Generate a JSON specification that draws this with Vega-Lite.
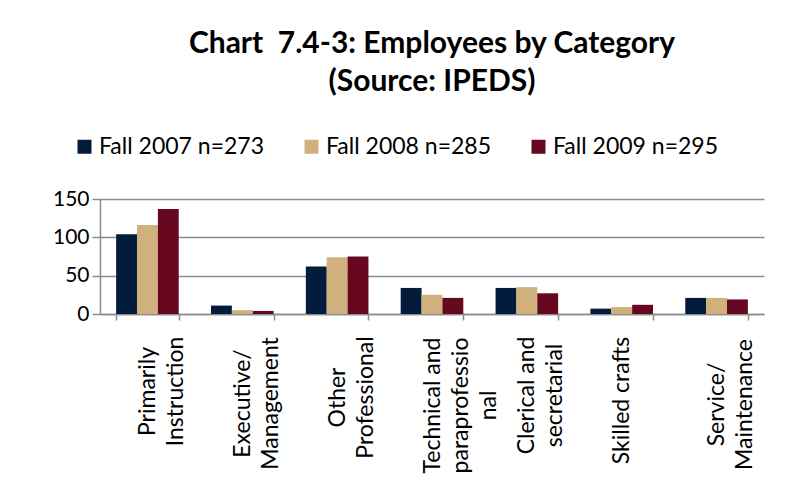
{
  "$schema": "https://vega.github.io/schema/vega-lite/v6.json",
  "width": 664,
  "height": 115,
  "padding": {"left": 52, "top": 29, "right": 28, "bottom": 10},
  "background": "white",
  "title": {
    "text": ["Chart\u00a0 7.4-3: Employees by Category", "(Source: IPEDS)"],
    "fontSize": 30,
    "font": "Lato",
    "fontWeight": "bold",
    "color": "black",
    "anchor": "middle",
    "offset": 38,
    "lineHeight": 38
  },
  "data": {
    "values": [
      {"category": "Primarily|Instruction", "series": "Fall 2007 n=273", "value": 104},
      {"category": "Primarily|Instruction", "series": "Fall 2008 n=285", "value": 116},
      {"category": "Primarily|Instruction", "series": "Fall 2009 n=295", "value": 137},
      {"category": "Executive/|Management", "series": "Fall 2007 n=273", "value": 11},
      {"category": "Executive/|Management", "series": "Fall 2008 n=285", "value": 5},
      {"category": "Executive/|Management", "series": "Fall 2009 n=295", "value": 4},
      {"category": "Other|Professional", "series": "Fall 2007 n=273", "value": 62},
      {"category": "Other|Professional", "series": "Fall 2008 n=285", "value": 74},
      {"category": "Other|Professional", "series": "Fall 2009 n=295", "value": 75},
      {"category": "Technical and|paraprofessio|nal", "series": "Fall 2007 n=273", "value": 34},
      {"category": "Technical and|paraprofessio|nal", "series": "Fall 2008 n=285", "value": 25},
      {"category": "Technical and|paraprofessio|nal", "series": "Fall 2009 n=295", "value": 21},
      {"category": "Clerical and|secretarial", "series": "Fall 2007 n=273", "value": 34},
      {"category": "Clerical and|secretarial", "series": "Fall 2008 n=285", "value": 35},
      {"category": "Clerical and|secretarial", "series": "Fall 2009 n=295", "value": 27},
      {"category": "Skilled crafts", "series": "Fall 2007 n=273", "value": 7},
      {"category": "Skilled crafts", "series": "Fall 2008 n=285", "value": 9},
      {"category": "Skilled crafts", "series": "Fall 2009 n=295", "value": 12},
      {"category": "Service/|Maintenance", "series": "Fall 2007 n=273", "value": 21},
      {"category": "Service/|Maintenance", "series": "Fall 2008 n=285", "value": 21},
      {"category": "Service/|Maintenance", "series": "Fall 2009 n=295", "value": 19}
    ]
  },
  "mark": {"type": "bar"},
  "encoding": {
    "x": {
      "field": "category",
      "type": "nominal",
      "sort": null,
      "scale": {"paddingInner": 0.34, "paddingOuter": 0.17},
      "axis": {
        "title": null,
        "labelAngle": -90,
        "labelAlign": "center",
        "labelBaseline": "middle",
        "labelExpr": "split(datum.label, '|')",
        "labelFont": "Lato",
        "labelFontSize": 23,
        "labelColor": "black",
        "labelLineHeight": 28,
        "labelPadding": {
          "condition": [
            {"test": "datum.value === 'Primarily|Instruction'", "value": 71},
            {"test": "datum.value === 'Executive/|Management'", "value": 83},
            {"test": "datum.value === 'Other|Professional'", "value": 77},
            {"test": "datum.value === 'Technical and|paraprofessio|nal'", "value": 85},
            {"test": "datum.value === 'Clerical and|secretarial'", "value": 75},
            {"test": "datum.value === 'Skilled crafts'", "value": 80}
          ],
          "value": 84
        },
        "tickBand": "extent",
        "tickSize": 6,
        "tickColor": "#8c8c8c",
        "tickWidth": 1.5,
        "domainColor": "#8c8c8c",
        "domainWidth": 1.5,
        "grid": false
      }
    },
    "xOffset": {"field": "series", "type": "nominal", "sort": null},
    "y": {
      "field": "value",
      "type": "quantitative",
      "scale": {"domain": [0, 150]},
      "axis": {
        "title": null,
        "values": [0, 50, 100, 150],
        "labelFont": "Lato",
        "labelFontSize": 21,
        "labelColor": "black",
        "labelPadding": 3,
        "tickSize": 8,
        "tickColor": "#8c8c8c",
        "tickWidth": 1.5,
        "gridColor": "#8c8c8c",
        "gridWidth": 1.5,
        "domainColor": "#8c8c8c",
        "domainWidth": 1.5
      }
    },
    "color": {
      "field": "series",
      "type": "nominal",
      "sort": null,
      "scale": {
        "domain": ["Fall 2007 n=273", "Fall 2008 n=285", "Fall 2009 n=295"],
        "range": ["#031c3c", "#d0b07d", "#680720"]
      },
      "legend": {
        "orient": "none",
        "legendX": -27,
        "legendY": -64,
        "direction": "horizontal",
        "title": null,
        "labelFont": "Lato",
        "labelFontSize": 23,
        "labelColor": "black",
        "labelLimit": 400,
        "symbolType": "square",
        "symbolSize": 196,
        "symbolStrokeWidth": 0,
        "columnPadding": 36,
        "labelOffset": 3
      }
    }
  },
  "config": {
    "view": {"stroke": null}
  }
}
